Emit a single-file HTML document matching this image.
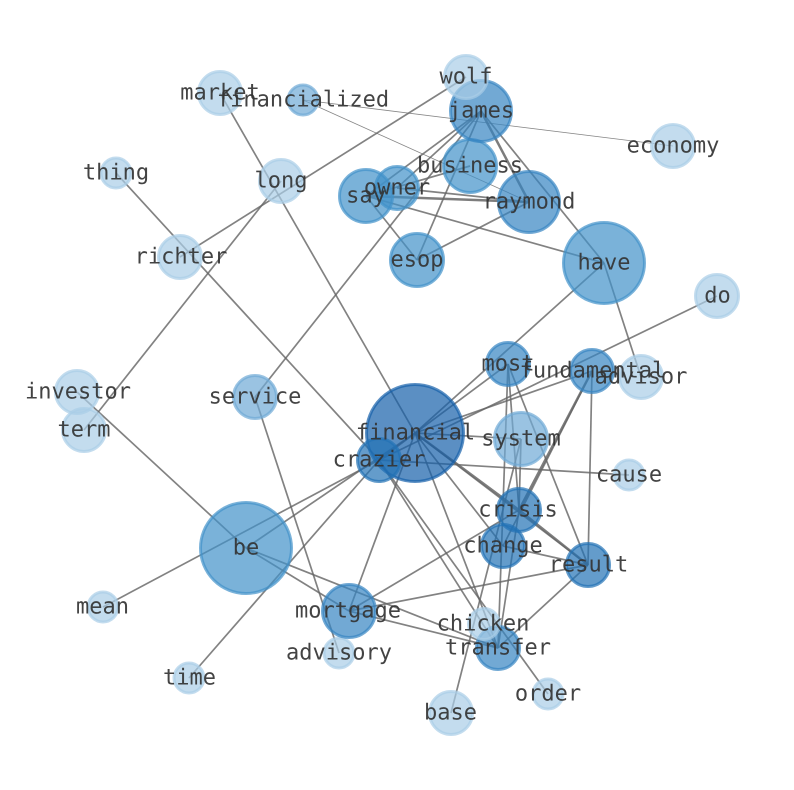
<!DOCTYPE html>
<html><head><meta charset="utf-8"><style>
html,body{margin:0;padding:0;background:#fff}
svg{display:block}
text{font-family:"DejaVu Sans Mono","Liberation Mono",monospace;font-size:22px;fill:#333;fill-opacity:.92;text-anchor:middle;dominant-baseline:central;text-rendering:geometricPrecision}
.e line{stroke:#666;stroke-opacity:.82;stroke-width:1.7}
.t line{stroke:#666;stroke-opacity:.8;stroke-width:.8}
.k line{stroke:#666;stroke-opacity:.85;stroke-width:2.5}
circle{stroke-width:3;fill-opacity:.7;stroke-opacity:.7}
.n1 circle{fill:#165faa;stroke:#165faa}
.n2 circle{fill:#2272b5;stroke:#2272b5}
.n3 circle{fill:#3684c2;stroke:#3684c2}
.n4 circle{fill:#4191c9;stroke:#4191c9}
.n5 circle{fill:#6faad6;stroke:#6faad6}
.n6 circle{fill:#a9cde7;stroke:#a9cde7}
</style></head><body>
<svg width="794" height="790" viewBox="0 0 794 790" xmlns="http://www.w3.org/2000/svg">
<g class="t">
<line x1="303" y1="100" x2="673" y2="146"/>
<line x1="303" y1="100" x2="529" y2="202"/>
</g>
<g class="e">
<line x1="466" y1="77" x2="180" y2="257"/>
<line x1="481" y1="111" x2="366" y2="196"/>
<line x1="481" y1="111" x2="397" y2="188"/>
<line x1="481" y1="111" x2="604" y2="263"/>
<line x1="481" y1="111" x2="417" y2="260"/>
<line x1="481" y1="111" x2="255" y2="397"/>
<line x1="604" y1="263" x2="641" y2="377"/>
<line x1="604" y1="263" x2="366" y2="196"/>
<line x1="604" y1="263" x2="415" y2="433"/>
<line x1="470" y1="166" x2="366" y2="196"/>
<line x1="397" y1="188" x2="529" y2="202"/>
<line x1="417" y1="260" x2="529" y2="202"/>
<line x1="417" y1="260" x2="366" y2="196"/>
<line x1="281" y1="181" x2="84" y2="430"/>
<line x1="116" y1="173" x2="379" y2="460"/>
<line x1="220" y1="93" x2="415" y2="433"/>
<line x1="77" y1="392" x2="246" y2="548"/>
<line x1="103" y1="607" x2="379" y2="460"/>
<line x1="189" y1="678" x2="379" y2="460"/>
<line x1="246" y1="548" x2="415" y2="433"/>
<line x1="246" y1="548" x2="498" y2="648"/>
<line x1="246" y1="548" x2="349" y2="611"/>
<line x1="255" y1="397" x2="339" y2="653"/>
<line x1="349" y1="611" x2="415" y2="433"/>
<line x1="349" y1="611" x2="519" y2="510"/>
<line x1="349" y1="611" x2="588" y2="565"/>
<line x1="349" y1="611" x2="498" y2="648"/>
<line x1="415" y1="433" x2="503" y2="546"/>
<line x1="415" y1="433" x2="498" y2="648"/>
<line x1="415" y1="433" x2="521" y2="439"/>
<line x1="415" y1="433" x2="588" y2="565"/>
<line x1="379" y1="460" x2="508" y2="364"/>
<line x1="415" y1="433" x2="592" y2="371"/>
<line x1="379" y1="460" x2="717" y2="296"/>
<line x1="379" y1="460" x2="629" y2="475"/>
<line x1="379" y1="460" x2="498" y2="648"/>
<line x1="379" y1="460" x2="548" y2="694"/>
<line x1="503" y1="546" x2="588" y2="565"/>
<line x1="508" y1="364" x2="588" y2="565"/>
<line x1="508" y1="364" x2="519" y2="510"/>
<line x1="508" y1="364" x2="498" y2="648"/>
<line x1="592" y1="371" x2="588" y2="565"/>
<line x1="592" y1="371" x2="503" y2="546"/>
<line x1="521" y1="439" x2="519" y2="510"/>
<line x1="521" y1="439" x2="451" y2="713"/>
<line x1="519" y1="510" x2="498" y2="648"/>
<line x1="588" y1="565" x2="498" y2="648"/>
</g>
<g class="k">
<line x1="481" y1="111" x2="529" y2="202"/>
<line x1="366" y1="196" x2="529" y2="202"/>
<line x1="415" y1="433" x2="519" y2="510"/>
<line x1="519" y1="510" x2="588" y2="565"/>
<line x1="519" y1="510" x2="592" y2="371"/>
</g>
<g class="n6">
<circle cx="220" cy="93" r="21.5"/>
<circle cx="673" cy="146" r="21.5"/>
<circle cx="281" cy="181" r="21.5"/>
<circle cx="116" cy="173" r="15"/>
<circle cx="180" cy="257" r="21.5"/>
<circle cx="717" cy="296" r="21.5"/>
<circle cx="641" cy="377" r="21.5"/>
<circle cx="77" cy="392" r="21.5"/>
<circle cx="84" cy="430" r="21.5"/>
<circle cx="629" cy="475" r="15"/>
<circle cx="339" cy="653" r="15"/>
<circle cx="103" cy="607" r="15"/>
<circle cx="189" cy="678" r="15"/>
<circle cx="548" cy="694" r="15"/>
<circle cx="451" cy="713" r="21.5"/>
</g>
<g class="n5">
<circle cx="303" cy="100" r="15"/>
<circle cx="255" cy="397" r="21.5"/>
<circle cx="521" cy="439" r="26.5"/>
</g>
<g class="n4">
<circle cx="604" cy="263" r="40.5"/>
<circle cx="246" cy="548" r="45.5"/>
<circle cx="470" cy="166" r="26.5"/>
<circle cx="366" cy="196" r="26.5"/>
<circle cx="397" cy="188" r="21.5"/>
<circle cx="417" cy="260" r="26.5"/>
</g>
<g class="n3">
<circle cx="481" cy="111" r="30.5"/>
<circle cx="529" cy="202" r="30.5"/>
<circle cx="508" cy="364" r="21.5"/>
<circle cx="592" cy="371" r="21.5"/>
<circle cx="349" cy="611" r="26.5"/>
<circle cx="498" cy="648" r="21.5"/>
</g>
<g class="n1">
<circle cx="415" cy="433" r="48.5"/>
</g>
<g class="n2">
<circle cx="379" cy="460" r="21.5"/>
<circle cx="503" cy="546" r="21.5"/>
<circle cx="519" cy="510" r="21.5"/>
<circle cx="588" cy="565" r="21.5"/>
</g>
<g class="n6">
<circle cx="466" cy="77" r="21.5"/>
<circle cx="484" cy="624" r="15.5"/>
</g>
<g>
<text x="415.5" y="433">financial</text>
<text x="379" y="460">crazier</text>
<text x="604" y="263">have</text>
<text x="246" y="548">be</text>
<text x="529" y="202">raymond</text>
<text x="481" y="111">james</text>
<text x="470" y="166">business</text>
<text x="366" y="196">say</text>
<text x="397" y="188">owner</text>
<text x="417" y="260">esop</text>
<text x="466" y="77">wolf</text>
<text x="303" y="100">financialized</text>
<text x="220" y="93">market</text>
<text x="673" y="146">economy</text>
<text x="281" y="181">long</text>
<text x="116" y="173">thing</text>
<text x="181" y="257">richter</text>
<text x="717.5" y="296">do</text>
<text x="508" y="364">most</text>
<text x="592.5" y="371">fundamental</text>
<text x="641" y="377">advisor</text>
<text x="255" y="397">service</text>
<text x="78" y="392">investor</text>
<text x="84" y="430">term</text>
<text x="521" y="439">system</text>
<text x="629" y="475">cause</text>
<text x="518" y="510">crisis</text>
<text x="503" y="546">change</text>
<text x="588.5" y="565">result</text>
<text x="348" y="611">mortgage</text>
<text x="483" y="624">chicken</text>
<text x="498" y="648">transfer</text>
<text x="339" y="653">advisory</text>
<text x="102.5" y="607">mean</text>
<text x="189.5" y="678">time</text>
<text x="548" y="694">order</text>
<text x="450.5" y="713">base</text>
</g>
</svg>
</body></html>
